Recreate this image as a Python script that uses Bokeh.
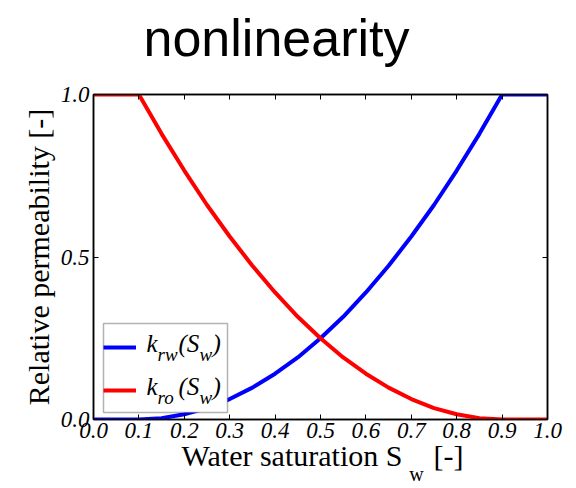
import math
from bokeh.plotting import figure
from bokeh.models import (Range1d, FixedTicker, LinearAxis, PrintfTickFormatter,
                          CustomJSTickFormatter, Label, Legend, LegendItem,
                          BoxAnnotation)
from bokeh.embed import file_html
from bokeh.resources import INLINE

# ---- data ----
sw = [0.0, 0.05, 0.1, 0.15, 0.2, 0.25, 0.3, 0.35, 0.4, 0.45, 0.5,
      0.55, 0.6, 0.65, 0.7, 0.75, 0.8, 0.85, 0.9, 0.95, 1.0]
krw = [0.0, 0.0, 0.0, 0.004, 0.016, 0.035, 0.063, 0.098, 0.141, 0.191, 0.25,
       0.316, 0.391, 0.473, 0.563, 0.660, 0.766, 0.879, 1.0, 1.0, 1.0]
kro = [1.0, 1.0, 1.0, 0.879, 0.766, 0.660, 0.563, 0.473, 0.391, 0.316, 0.25,
       0.191, 0.141, 0.098, 0.063, 0.035, 0.016, 0.004, 0.0, 0.0, 0.0]
x_ticks = [0.0, 0.1, 0.2, 0.3, 0.4, 0.5, 0.6, 0.7, 0.8, 0.9, 1.0]
y_ticks = [0.0, 0.5, 1.0]
title_text = "nonlinearity"
ylabel_text = "Relative permeability [-]"
xlabel_main = "Water saturation S"
xlabel_sub = "w"
xlabel_end = "[-]"

SERIF = "Liberation Serif"
SANS = "Liberation Sans"

W, H = 576, 488
FL, FR, FT, FB = 93, 547, 94, 419   # frame edges in picture pixels

def dx(xs):
    return (xs - FL) / (FR - FL)
def dy(ys):
    return (FB - ys) / (FB - FT)

p = figure(width=W, height=H, output_backend="svg", toolbar_location=None,
           x_range=Range1d(0, 1), y_range=Range1d(0, 1),
           min_border_left=FL, min_border_right=W - FR, min_border_top=FT,
           min_border_bottom=H - FB)
p.grid.visible = False
p.outline_line_color = "black"
p.outline_line_width = 1.5
p.background_fill_color = "white"
p.border_fill_color = "white"

def style_axis(ax, ticks, labels=True):
    ax.ticker = FixedTicker(ticks=ticks)
    ax.formatter = PrintfTickFormatter(format="%.1f")
    ax.major_tick_in = 5
    ax.major_tick_out = 0
    ax.minor_tick_line_color = None
    ax.axis_line_color = "black"
    ax.axis_line_width = 1.5
    ax.major_tick_line_color = "black"
    ax.major_tick_line_width = 1
    ax.major_label_text_font = SERIF
    ax.major_label_text_font_style = "italic"
    ax.major_label_text_font_size = "23px"
    ax.major_label_text_color = "black"
    ax.major_label_standoff = 4
    ax.axis_label_text_font = SERIF
    ax.axis_label_text_font_style = "normal"
    ax.axis_label_text_font_size = "30px"
    ax.axis_label_text_color = "black"
    if not labels:
        ax.major_label_text_alpha = 0
        ax.major_label_text_font_size = "1px"

def text_axis(ax, positions, texts, font, size, standoff, style="normal"):
    """An axis used only to carry text rows outside the frame."""
    ax.ticker = FixedTicker(ticks=positions)
    ax.formatter = CustomJSTickFormatter(args=dict(labels=texts),
                                         code="return labels[index];")
    ax.axis_line_color = None
    ax.major_tick_line_color = None
    ax.minor_tick_line_color = None
    ax.major_tick_in = 0
    ax.major_tick_out = 0
    ax.major_label_text_font = font
    ax.major_label_text_font_size = f"{size}px"
    ax.major_label_text_font_style = style
    ax.major_label_text_color = "black"
    ax.major_label_standoff = standoff

style_axis(p.xaxis[0], x_ticks)
style_axis(p.yaxis[0], y_ticks)
p.xaxis[0].major_label_standoff = 3
p.yaxis[0].axis_label = ylabel_text
p.yaxis[0].axis_label_standoff = 3

right = LinearAxis()
style_axis(right, y_ticks, labels=False)
p.add_layout(right, "right")

# top: minor ticks mirror the x ticks, the single label is the title
top = LinearAxis()
text_axis(top, [dx(276)], [title_text], SANS, 52, 28)
top.ticker = FixedTicker(ticks=[dx(276)], minor_ticks=x_ticks)
top.minor_tick_line_color = "black"
top.minor_tick_line_width = 1
top.minor_tick_in = 5
top.minor_tick_out = 0
top.axis_line_color = "black"
top.axis_line_width = 1.5
p.add_layout(top, "above")

# bottom text rows: x-axis label and its subscript
xl_row = LinearAxis()
text_axis(xl_row, [dx(291.5), dx(448)], [xlabel_main, xlabel_end], SERIF, 30, -2)
p.add_layout(xl_row, "below")
xs_row = LinearAxis()
text_axis(xs_row, [dx(416)], [xlabel_sub], SERIF, 20, -12)
p.add_layout(xs_row, "below")

r_w = p.line(sw, krw, line_color="#0000ff", line_width=4)
r_o = p.line(sw, kro, line_color="#ff0000", line_width=4)

# legend: white box, then texts, then swatches (legend itself transparent)
p.add_layout(BoxAnnotation(left=dx(103), right=dx(227), bottom=dy(412), top=dy(323),
                           fill_color="white", fill_alpha=1.0,
                           line_color="black", line_width=1.5))

DESC = 0.216  # descent / em: bottom-anchored text placed on a baseline

def lab(text, xs, base, size, italic=False, font=SERIF, align="left"):
    p.add_layout(Label(x=dx(xs), y=dy(base + DESC * size), text=text,
                       text_font=font, text_font_size=f"{size}px",
                       text_font_style="italic" if italic else "normal",
                       text_align=align, text_color="black"))

for off, sub in ((0, "rw"), (43, "ro")):
    lab("k", 146, 351 + off, 25, italic=True)
    lab(sub, 157, 360 + off, 19, italic=True)
    lab("(S", 178, 351 + off, 25, italic=True)
    lab("w", 199, 360 + off, 19, italic=True)
    lab(")", 212, 351 + off, 25, italic=True)

legend = Legend(items=[LegendItem(label=" ", renderers=[r_w]),
                       LegendItem(label=" ", renderers=[r_o])],
                location=(10, 11), margin=0, padding=5, spacing=7,
                glyph_width=33, glyph_height=36, label_height=36,
                label_width=70, label_standoff=8,
                border_line_color=None, background_fill_alpha=0.0,
                label_text_font_size="10px")
p.add_layout(legend, "center")

open("out.html", "w").write(file_html(p, INLINE))
